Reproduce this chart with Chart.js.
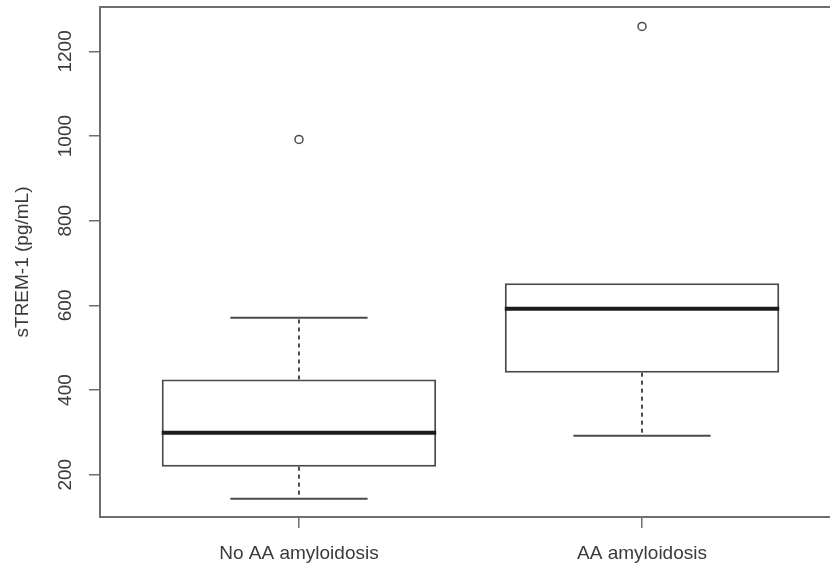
<!DOCTYPE html>
<html>
<head>
<meta charset="utf-8">
<script src="https://cdn.jsdelivr.net/npm/chart.js@4/dist/chart.umd.min.js"></script>
<style>
  html, body { margin: 0; padding: 0; background: #fff; }
  canvas { display: block; }
</style>
</head>
<body>
<canvas id="chart-strem" width="830" height="568"></canvas>
<script>
// groups and their x positions
const groups    = ['No AA amyloidosis', 'AA amyloidosis'];
const positions = [1, 2];

// five-number summary per group, pg/mL
const whiskerLow  = [143, 292];
const quartile1   = [219, 441];
const medians     = [299, 592];
const quartile3   = [425, 652];
const whiskerHigh = [571, 652];
const outliers    = [992, 1259];

const yTicks = [200, 400, 600, 800, 1000, 1200];
const yRange = [100, 1305];
const xRange = [0.42, 2.548];

const BOX_HALF = 0.4;   // R boxwex 0.8
const CAP_HALF = 0.2;   // staplewex 0.5

const COLORS = {
  box: '#4a4a4a',
  median: '#1c1c1c',
  frame: '#6e6e6e',
  text: '#3a3a3a',
};
const FONT = { family: "'Liberation Sans', Arial, sans-serif", size: 19 };

const segment = (x0, x1, y0, y1, extra) => Object.assign({
  type: 'line',
  data: [{ x: x0, y: y0 }, { x: x1, y: y1 }],
  borderColor: COLORS.box,
  borderWidth: 2,
  pointRadius: 0,
  fill: false,
  tension: 0,
  order: 3,
}, extra || {});

const datasets = [];

// boxes
datasets.push({
  type: 'bar',
  data: positions.map((p, i) => ({ x: p, y: [quartile1[i], quartile3[i]] })),
  backgroundColor: '#ffffff',
  borderColor: COLORS.box,
  borderWidth: 2,
  borderSkipped: false,
  categoryPercentage: 0.8,
  barPercentage: 1,
  grouped: false,
  order: 2,
});

positions.forEach((p, i) => {
  // median
  datasets.push(segment(p - BOX_HALF, p + BOX_HALF, medians[i], medians[i],
    { borderColor: COLORS.median, borderWidth: 4, order: 0 }));
  // dashed whiskers + staples
  datasets.push(segment(p, p, quartile1[i], whiskerLow[i], { borderDash: [4, 4] }));
  datasets.push(segment(p - CAP_HALF, p + CAP_HALF, whiskerLow[i], whiskerLow[i]));
  if (whiskerHigh[i] > quartile3[i]) {
    datasets.push(segment(p, p, quartile3[i], whiskerHigh[i], { borderDash: [4, 4] }));
    datasets.push(segment(p - CAP_HALF, p + CAP_HALF, whiskerHigh[i], whiskerHigh[i]));
  }
});

// outliers
datasets.push({
  type: 'scatter',
  data: positions.map((p, i) => ({ x: p, y: outliers[i] })),
  pointStyle: 'circle',
  pointRadius: 4,
  pointBorderWidth: 1.5,
  pointBorderColor: COLORS.box,
  pointBackgroundColor: 'rgba(0,0,0,0)',
  order: 1,
});

const framePlugin = {
  id: 'frame',
  beforeDraw(chart) {
    const c = chart.ctx;
    c.save();
    c.fillStyle = '#ffffff';
    c.fillRect(0, 0, chart.width, chart.height);
    c.restore();
  },
  afterDraw(chart) {
    const { left, right, top } = chart.chartArea;
    const c = chart.ctx;
    c.save();
    c.strokeStyle = COLORS.frame;
    c.lineWidth = 2;
    c.beginPath();
    c.moveTo(left - 1, top);
    c.lineTo(right, top);
    c.stroke();
    c.restore();
  },
};

const noPadding = (scale) => {
  scale.paddingTop = 0;
  scale.paddingBottom = 0;
  scale.paddingLeft = 0;
  scale.paddingRight = 0;
};

new Chart(document.getElementById('chart-strem').getContext('2d'), {
  type: 'bar',
  data: { datasets },
  plugins: [framePlugin],
  options: {
    responsive: false,
    animation: false,
    events: [],
    layout: { autoPadding: false, padding: { top: 7, right: 0, left: 0, bottom: 0 } },
    plugins: { legend: { display: false }, tooltip: { enabled: false } },
    scales: {
      x: {
        type: 'linear',
        min: xRange[0],
        max: xRange[1],
        offset: false,
        afterBuildTicks: (scale) => { scale.ticks = positions.map(v => ({ value: v })); },
        afterFit: (scale) => { scale.height = 51; noPadding(scale); },
        grid: { offset: false, drawOnChartArea: false, tickLength: 11, color: COLORS.frame, lineWidth: 1.5 },
        border: { display: true, color: COLORS.frame, width: 2 },
        ticks: {
          autoSkip: false,
          maxRotation: 0,
          padding: 14,
          color: COLORS.text,
          font: FONT,
          callback: (v) => groups[positions.indexOf(v)] || '',
        },
      },
      y: {
        type: 'linear',
        min: yRange[0],
        max: yRange[1],
        afterBuildTicks: (scale) => { scale.ticks = yTicks.map(v => ({ value: v })); },
        afterFit: (scale) => { scale.width = 100; noPadding(scale); },
        grid: { drawOnChartArea: false, tickLength: 11, color: COLORS.frame, lineWidth: 1.5 },
        border: { display: true, color: COLORS.frame, width: 2 },
        ticks: {
          minRotation: 90,
          maxRotation: 90,
          crossAlign: 'center',
          padding: 2,
          color: COLORS.text,
          font: FONT,
          callback: (v) => String(v),
        },
        title: {
          display: true,
          text: 'sTREM-1 (pg/mL)',
          color: COLORS.text,
          font: FONT,
          padding: { top: 11, bottom: 0 },
        },
      },
    },
  },
});
</script>
</body>
</html>
